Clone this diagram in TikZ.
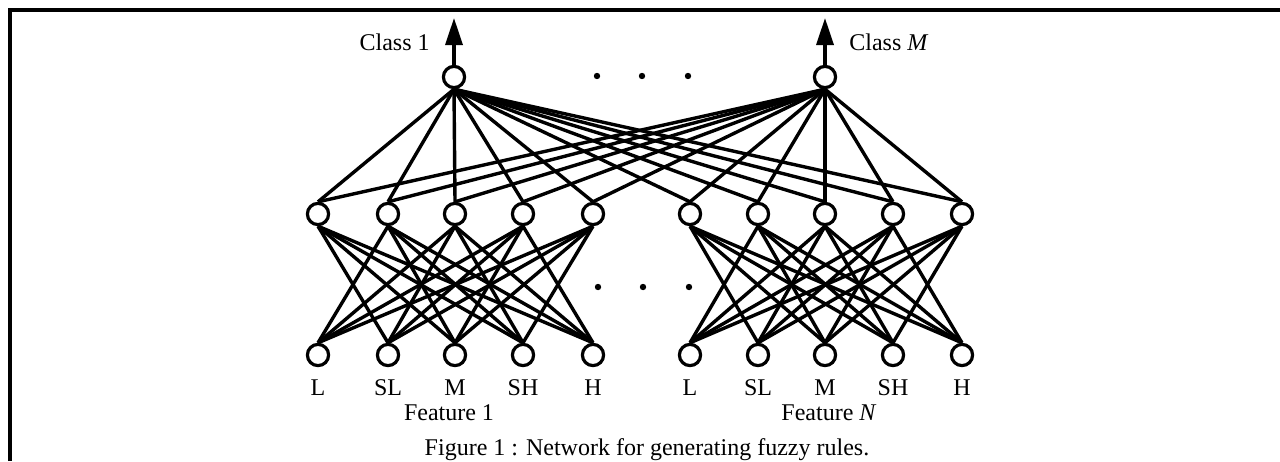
\documentclass[tikz,border=0pt]{standalone}
\usepackage{fontspec}
\setmainfont{Liberation Serif}
\usetikzlibrary{arrows.meta}
\begin{document}
\begin{tikzpicture}[x=0.5pt,y=-0.5pt,
  unit/.style={circle,draw,line width=1.6pt,minimum size=10.6pt,inner sep=0pt},
  conn/.style={line width=1.7pt},
  lbl/.style={font=\fontsize{12}{14}\selectfont,inner sep=0pt},
  dotmark/.style={circle,fill,minimum size=3.2pt,inner sep=0pt}]
\useasboundingbox (0,0) rectangle (1280,461);
% frame
\coordinate (fa) at (10,461);
\coordinate (fb) at (10,10);
\coordinate (fc) at (1280,10);
\draw[line width=2pt] (fa) -- (fb) -- (fc);
% units
\foreach \i/\xa/\xb in {1/318/690, 2/388/758, 3/455/825, 4/523/893, 5/593/962} {
  \node[unit] (hA\i) at (\xa,214) {};
  \node[unit] (hB\i) at (\xb,214) {};
  \node[unit] (bA\i) at (\xa,355) {};
  \node[unit] (bB\i) at (\xb,355) {};
}
\node[unit] (o1) at (454,77) {};
\node[unit] (o2) at (825,77) {};
% input to hidden
\foreach \g in {A,B} {
  \foreach \i in {1,...,5} {
    \foreach \j in {1,...,5} {
      \ifnum\i=\j\else
        \draw[conn] (h\g\i.south) -- (b\g\j.north);
      \fi
    }
  }
}
% hidden to output
\foreach \o in {o1,o2} {
  \foreach \g in {A,B} {
    \foreach \i in {1,...,5} {
      \draw[conn] (\o.south) -- (h\g\i.north);
    }
  }
}
% output arrows
\coordinate (t1) at (454,18);
\coordinate (t2) at (825,18);
\draw[conn,-{Triangle[length=13.5pt,width=8.5pt]}] (o1.north) -- (t1);
\draw[conn,-{Triangle[length=13.5pt,width=8.5pt]}] (o2.north) -- (t2);
\node[lbl,anchor=east] (c1) at (430,42) {Class 1};
\node[lbl,anchor=west] (c2) at (849,42) {Class \textit{M}};
% dots
\node[dotmark] (d1) at (597,76) {};
\node[dotmark] (d2) at (642,76) {};
\node[dotmark] (d3) at (688,76) {};
\node[dotmark] (d4) at (598,287) {};
\node[dotmark] (d5) at (643,287) {};
\node[dotmark] (d6) at (689,287) {};
% labels
\foreach \i/\t in {1/L,2/SL,3/M,4/SH,5/H} {
  \path (bA\i) ++(0,33) node[lbl] (lA\i) {\t};
  \path (bB\i) ++(0,33) node[lbl] (lB\i) {\t};
}
\node[lbl] (f1) at (449,413) {Feature 1};
\node[lbl] (f2) at (829,413) {Feature \textit{N}};
\node[lbl,anchor=base] (cap) at (647,455) {Figure 1 : Network for generating fuzzy rules.};
\end{tikzpicture}
\end{document}
